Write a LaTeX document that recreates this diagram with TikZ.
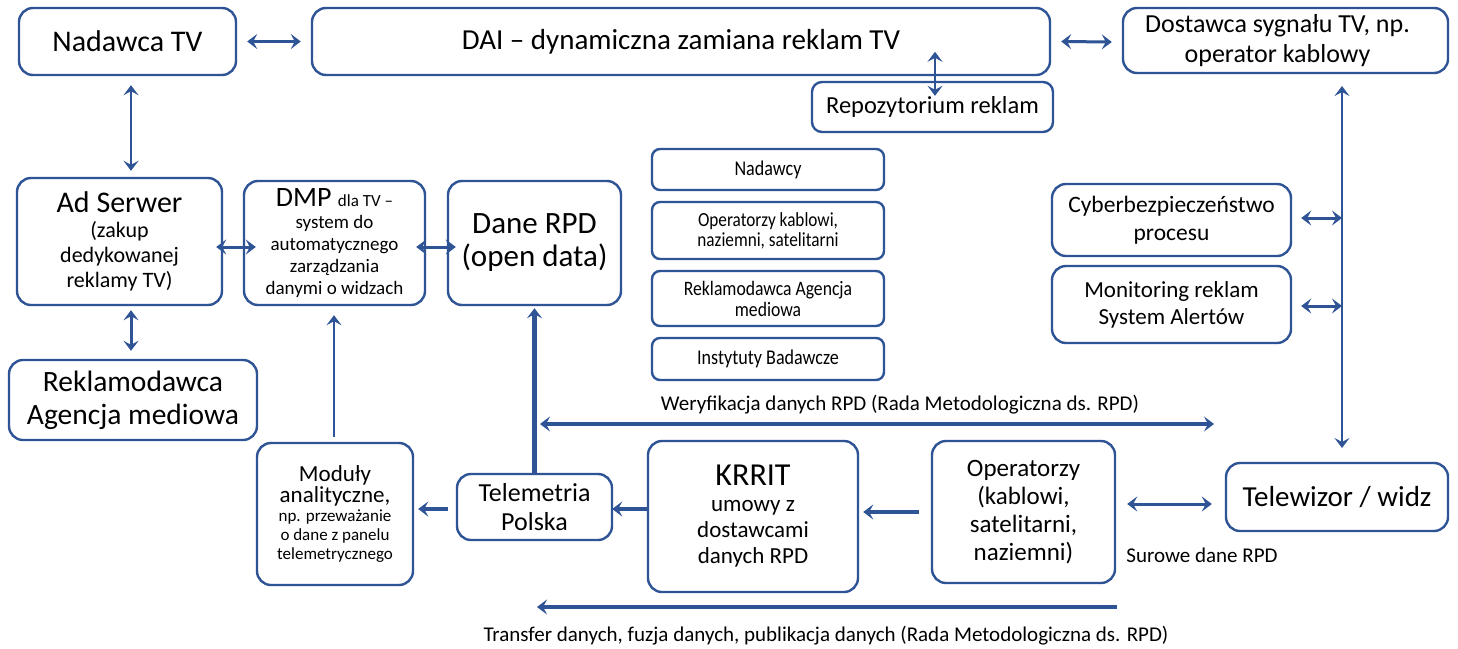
\documentclass[tikz,border=0pt]{standalone}
\usepackage{fontspec}
\setmainfont{Carlito}
\newfontfamily\cond[FakeStretch=0.86]{Carlito}
\usetikzlibrary{arrows.meta}
\definecolor{bc}{RGB}{47,84,150}
\newcommand\fsz[2]{\fontsize{#1}{#2}\selectfont}
\tikzset{
  box/.style={draw=bc, line width=2.4pt, rounded corners=14pt, align=center, inner sep=0pt},
  sbox/.style={box, rounded corners=8pt},
  tip/.tip={Stealth[length=10pt,width=15pt,inset=4pt]},
  arr/.style={draw=bc, line width=3pt, tip-tip},
  rarr/.style={draw=bc, line width=3pt, -tip},
  lbl/.style={inner sep=0pt, text=black}
}
\begin{document}
\begin{tikzpicture}[x=1pt,y=-1pt]
\useasboundingbox[fill=white] (0,0) rectangle (1458,648);
% top row
\node[box, minimum width=217pt, minimum height=67pt, font=\fsz{30}{34}] (nad) at (127.5,41.5) {Nadawca TV};
\node[box, minimum width=738pt, minimum height=67pt, font=\fsz{29}{34}] (dai) at (681,41.5) {DAI -- dynamiczna zamiana reklam TV};
\node[box, minimum width=325pt, minimum height=65pt, font=\fsz{26}{30}] (dost) at (1285.5,40.5) {\hspace*{-16pt}Dostawca sygnału TV, np.\\\hspace*{-16pt}operator kablowy};
\node[box, rounded corners=10pt, minimum width=241pt, minimum height=50pt, font=\fsz{24.5}{26}] (repo) at (932.5,107) {Repozytorium reklam};
% second row
\node[box, minimum width=205pt, minimum height=127pt, font=\fsz{22}{25}] (ad) at (119.5,241.5) {\fsz{30}{30}Ad Serwer\\(zakup\\dedykowanej\\reklamy TV)};
\node[box, minimum width=181pt, minimum height=124pt, font=\fsz{19}{22}] (dmp) at (334.5,243) {\fsz{28}{24}DMP \fsz{17}{22}dla TV --\\system do\\automatycznego\\zarządzania\\danymi o widzach};
\node[box, minimum width=173pt, minimum height=124pt, font=\fsz{31}{33}] (dane) at (534.5,243) {Dane RPD\\(open data)};
\node[box, minimum width=248pt, minimum height=80pt, font=\fsz{29.5}{33}] (rek) at (133,400) {Reklamodawca\\Agencja mediowa};
% small boxes
\node[sbox, minimum width=232pt, minimum height=41pt, font=\cond\fsz{21}{22}] (s1) at (768,169.5) {Nadawcy};
\node[sbox, minimum width=232pt, minimum height=57pt, font=\cond\fsz{20}{20}] (s2) at (768,230.5) {Operatorzy kablowi,\\naziemni, satelitarni};
\node[sbox, minimum width=232pt, minimum height=55pt, font=\cond\fsz{20.5}{21}] (s3) at (768,298.5) {Reklamodawca Agencja\\mediowa};
\node[sbox, minimum width=232pt, minimum height=42pt, font=\cond\fsz{21}{22}] (s4) at (768,359) {Instytuty Badawcze};
% right column
\node[box, minimum width=239pt, minimum height=72pt, font=\fsz{23.5}{28}] (cyb) at (1171.5,220) {Cyberbezpieczeństwo\\procesu};
\node[box, minimum width=239pt, minimum height=77pt, font=\fsz{23}{27}] (mon) at (1171.5,304.5) {Monitoring reklam\\System Alertów};
% bottom row
\node[box, minimum width=156pt, minimum height=142pt, font=\fsz{17}{19}] (mod) at (335,514) {\fsz{23}{24}Moduły\\\fsz{23}{24}analityczne,\\np. przeważanie\\o dane z panelu\\telemetrycznego};
\node[box, minimum width=155pt, minimum height=66pt, font=\fsz{26}{29}] (tel) at (534.5,507) {Telemetria\\Polska};
\node[box, minimum width=210pt, minimum height=151pt, font=\fsz{23}{26}] (krr) at (753,516.5) {\fsz{32}{32}KRRIT\\umowy z\\dostawcami\\danych RPD};
\node[box, minimum width=183pt, minimum height=142pt, font=\fsz{25}{28}] (ope) at (1023.5,512) {Operatorzy\\(kablowi,\\satelitarni,\\naziemni)};
\node[box, minimum width=222pt, minimum height=68pt, font=\fsz{29}{34}] (tv) at (1337,497) {Telewizor / widz};
% labels
\node[lbl, font=\fsz{21}{24}] (wer) at (900,405) {Weryfikacja danych RPD (Rada Metodologiczna ds. RPD)};
\node[lbl, font=\fsz{21}{24}] (sur) at (1202,555) {Surowe dane RPD};
\node[lbl, font=\fsz{21}{24}] (tra) at (826,636) {Transfer danych, fuzja danych, publikacja danych (Rada Metodologiczna ds. RPD)};
% coordinates for free ends
\coordinate (werL) at (540,424);
\coordinate (werR) at (1214,424);
\coordinate (traL) at (537,607);
\coordinate (traR) at (1117,607);
\coordinate (vT) at (1342,86);
\coordinate (vB) at (1342,448);
% connectors
\draw[arr] ([xshift=10pt]nad.east) -- ([xshift=-10pt]dai.west);
\draw[arr] ([xshift=10pt]dai.east) -- ([xshift=-10pt,yshift=-1.5pt]dost.west);
\draw[arr, line width=2.5pt] ([xshift=2.5pt,yshift=29pt]repo.north) -- ([xshift=2.5pt,yshift=-15pt]repo.north);
\draw[arr, line width=2.5pt] ([xshift=3.5pt,yshift=-9pt]nad.south) -- ([xshift=11.5pt,yshift=6pt]ad.north);
\draw[arr] ([xshift=11.5pt,yshift=-4pt]ad.south) -- ([xshift=-2pt,yshift=8pt]rek.north);
\draw[arr] ([xshift=-7pt,yshift=-5.5pt]ad.east) -- ([xshift=13pt,yshift=-4pt]dmp.west);
\draw[arr] ([xshift=-10pt,yshift=-4pt]dmp.east) -- ([xshift=9pt,yshift=-4pt]dane.west);
\draw[rarr, line width=2.5pt] ([xshift=-1pt,yshift=5pt]mod.north) -- ([xshift=-0.5pt,yshift=-9pt]dmp.south);
\draw[rarr, line width=4.5pt] (tel.north) -- ([yshift=-2pt]dane.south);
\draw[rarr, line width=3.5pt] ([xshift=-8pt,yshift=-2pt]tel.west) -- ([xshift=4pt,yshift=5pt]mod.east);
\draw[rarr, line width=3.5pt] ([yshift=7.5pt]krr.west) -- ([xshift=-1pt,yshift=-2pt]tel.east);
\draw[rarr, line width=4pt] ([xshift=-12pt]ope.west) -- ([xshift=4pt,yshift=4.5pt]krr.east);
\draw[arr] ([xshift=11pt,yshift=8pt]ope.east) -- ([xshift=-13pt,yshift=-7pt]tv.west);
\draw[arr, line width=3.5pt] (werL) -- (werR);
\draw[rarr, line width=3.5pt] (traR) -- (traL);
\draw[arr, line width=2.5pt] (vT) -- (vB);
\draw[arr] ([xshift=9pt,yshift=2pt]cyb.east) -- ([yshift=2pt]cyb.east -| vT);
\draw[arr] ([xshift=9pt,yshift=-1.5pt]mon.east) -- ([yshift=-1.5pt]mon.east -| vT);
\end{tikzpicture}
\end{document}
